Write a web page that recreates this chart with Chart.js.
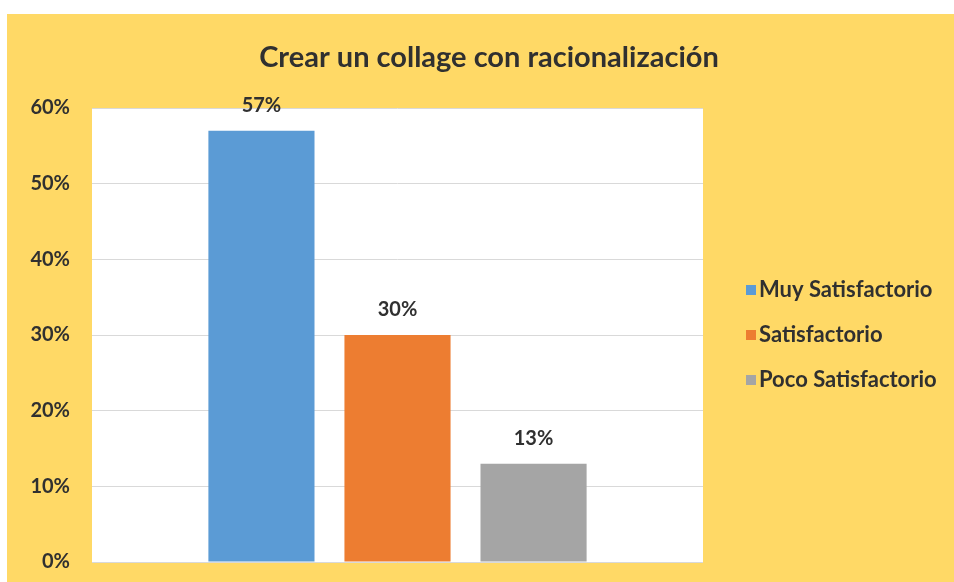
<!DOCTYPE html>
<html>
<head>
<meta charset="utf-8">
<script src="https://cdn.jsdelivr.net/npm/chart.js@4.4.1/dist/chart.umd.min.js"></script>
<style>
  html, body { margin: 0; padding: 0; background: #ffffff; overflow: hidden; }
  #wrap { position: absolute; left: 7px; top: 14px; width: 947px; height: 570px; }
</style>
</head>
<body>
<div id="wrap"><canvas id="myChart" width="947" height="570"></canvas></div>
<script>
// chart data
const titleText = 'Crear un collage con racionalización';
const categories = [''];
const seriesNames = ['Muy Satisfactorio', 'Satisfactorio', 'Poco Satisfactorio'];
const seriesValues = [57, 30, 13];
const seriesColors = ['#5B9BD5', '#ED7D31', '#A5A5A5'];
const yTicks = [0, 10, 20, 30, 40, 50, 60];

const FONT = 'Lato, "Open Sans", sans-serif';
const TEXT = '#303030';

// yellow card + white plot area + title
const background = {
  id: 'background',
  beforeDraw(chart) {
    const { ctx, chartArea } = chart;
    ctx.save();
    ctx.fillStyle = '#FFD966';
    ctx.fillRect(0, 0, chart.width, chart.height);
    ctx.fillStyle = '#ffffff';
    ctx.fillRect(chartArea.left, chartArea.top, chartArea.right - chartArea.left, chartArea.bottom - chartArea.top);
    ctx.font = 'bold 29px ' + FONT;
    ctx.fillStyle = TEXT;
    ctx.textAlign = 'center';
    ctx.textBaseline = 'alphabetic';
    ctx.fillText(titleText, 482, 53);
    ctx.restore();
  }
};

// value labels over the bars
const barLabels = {
  id: 'barLabels',
  afterDatasetsDraw(chart) {
    const ctx = chart.ctx;
    ctx.save();
    ctx.font = 'bold 20px ' + FONT;
    ctx.fillStyle = TEXT;
    ctx.textAlign = 'center';
    ctx.textBaseline = 'middle';
    chart.data.datasets.forEach((ds, i) => {
      chart.getDatasetMeta(i).data.forEach((bar, j) => {
        ctx.fillText(ds.data[j] + '%', bar.x, bar.y - 25);
      });
    });
    ctx.restore();
  }
};

// legend on the right, like the spreadsheet one
const sideLegend = {
  id: 'sideLegend',
  afterDraw(chart) {
    const { ctx, chartArea } = chart;
    const mid = (chartArea.top + chartArea.bottom) / 2;
    const x = chartArea.right + 43;
    ctx.save();
    ctx.font = 'bold 22px ' + FONT;
    ctx.textBaseline = 'middle';
    ctx.textAlign = 'left';
    chart.data.datasets.forEach((ds, i) => {
      const y = mid + (i - 1) * 45;
      ctx.fillStyle = ds.backgroundColor;
      ctx.fillRect(x, y - 5, 10, 10);
      ctx.fillStyle = TEXT;
      ctx.fillText(ds.label, x + 13, y);
    });
    ctx.restore();
  }
};

const ctx = document.getElementById('myChart').getContext('2d');
new Chart(ctx, {
  type: 'bar',
  data: {
    labels: categories,
    datasets: seriesNames.map((name, i) => ({
      label: name,
      data: [seriesValues[i]],
      backgroundColor: seriesColors[i],
      categoryPercentage: 0.668,
      barPercentage: 0.78
    }))
  },
  options: {
    responsive: false,
    animation: false,
    layout: { autoPadding: false, padding: { left: 16, right: 251, top: 94, bottom: 20 } },
    plugins: {
      legend: { display: false },
      tooltip: { enabled: false },
      title: { display: false }
    },
    scales: {
      x: { display: false },
      y: {
        min: 0,
        max: 60,
        afterFit(scale) { scale.width = 69; },
        afterBuildTicks(scale) { scale.ticks = yTicks.map(v => ({ value: v })); },
        border: { display: false },
        grid: { color: '#D9D9D9', lineWidth: 1, drawTicks: false },
        ticks: {
          padding: 22,
          color: TEXT,
          font: { family: FONT, size: 20, weight: 'bold', lineHeight: 0 },
          callback: v => v + '%'
        }
      }
    }
  },
  plugins: [background, barLabels, sideLegend]
});
</script>
</body>
</html>
